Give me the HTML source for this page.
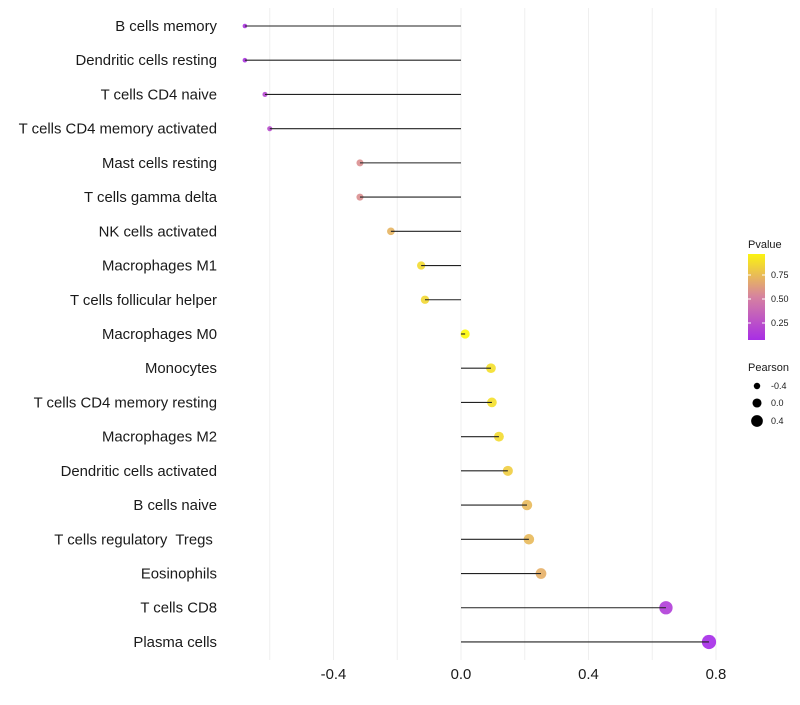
<!DOCTYPE html>
<html><head><meta charset="utf-8"><style>
body{margin:0;background:#fff;font-family:"Liberation Sans",sans-serif}
</style></head><body>
<svg id="c" width="800" height="700" xmlns="http://www.w3.org/2000/svg"></svg>
<script>
const categories=["B cells memory","Dendritic cells resting","T cells CD4 naive","T cells CD4 memory activated","Mast cells resting","T cells gamma delta","NK cells activated","Macrophages M1","T cells follicular helper","Macrophages M0","Monocytes","T cells CD4 memory resting","Macrophages M2","Dendritic cells activated","B cells naive","T cells regulatory\u00a0 Tregs\u00a0","Eosinophils","T cells CD8","Plasma cells"];
const pearson=[-0.678,-0.678,-0.615,-0.6,-0.317,-0.317,-0.22,-0.125,-0.113,0.013,0.094,0.097,0.119,0.147,0.207,0.213,0.251,0.643,0.778];
const pvalue=[0.1,0.1,0.2,0.22,0.55,0.55,0.7,0.85,0.84,0.97,0.87,0.87,0.85,0.8,0.72,0.72,0.68,0.15,0.05];
const xTicks=[-0.4,0,0.4,0.8];
const xTickLabels=["-0.4","0.0","0.4","0.8"];
const gridVals=[-0.6,-0.4,-0.2,0,0.2,0.4,0.6,0.8];
const svg=document.getElementById('c');
const NS="http://www.w3.org/2000/svg";
const x=v=>461+v*318.75;
const y=i=>26+i*34.22;
const rad=v=>2.3+(v+0.68)*3.3;
function col(p){const s=[[0,[160,32,240]],[0.5,[214,130,160]],[1,[255,255,0]]];let a=s[0],b=s[1];if(p>0.5){a=s[1];b=s[2];}const t=(p-a[0])/(b[0]-a[0]);const c=a[1].map((v,k)=>Math.round(v+(b[1][k]-v)*t));return `rgb(${c})`;}
function mk(t,at,parent){const e=document.createElementNS(NS,t);for(const k in at)e.setAttribute(k,at[k]);(parent||svg).appendChild(e);return e;}
gridVals.forEach(g=>{const l=mk('line',{x1:x(g),x2:x(g),y1:8,y2:660,stroke:'#efefef','stroke-width':1});

});
categories.forEach((c,i)=>{const t=mk('text',{x:217,y:y(i)+5,'text-anchor':'end','font-size':14.9,fill:'#1a1a1a'});t.textContent=c;

});
pearson.forEach((v,i)=>{const p=mk('circle',{cx:x(v),cy:y(i),r:rad(v),fill:col(pvalue[i]),opacity:0.9});

});
pearson.forEach((v,i)=>{const l=mk('line',{x1:x(0),x2:x(v),y1:y(i),y2:y(i),stroke:'#222','stroke-width':1.1});

});
xTicks.forEach((v,i)=>{const t=mk('text',{x:x(v),y:679,'text-anchor':'middle','font-size':14.9,fill:'#1a1a1a'});t.textContent=xTickLabels[i];

});
const defs=mk('defs',{});const lg=mk('linearGradient',{id:'g',x1:0,y1:1,x2:0,y2:0},defs);
[[0,0.07],[0.5,0.5],[1,0.95]].forEach(s=>mk('stop',{offset:s[0],'stop-color':col(s[1])},lg));
let t=mk('text',{x:748,y:248,'font-size':11,fill:'#1a1a1a'});t.textContent='Pvalue';

const bar=mk('rect',{x:748,y:254,width:17,height:86,fill:'url(#g)'});

[[0.75,275],[0.5,299],[0.25,323]].forEach(a=>{mk('line',{x1:748,x2:751,y1:a[1],y2:a[1],stroke:'#fff'});mk('line',{x1:762,x2:765,y1:a[1],y2:a[1],stroke:'#fff'});
const tt=mk('text',{x:771,y:a[1]+3,'font-size':9,fill:'#1a1a1a'});tt.textContent=a[0].toFixed(2);
});
t=mk('text',{x:748,y:371,'font-size':11,fill:'#1a1a1a'});t.textContent='Pearson';

[[-0.4,386,"-0.4"],[0,403,"0.0"],[0.4,421,"0.4"]].forEach(a=>{const c=mk('circle',{cx:757,cy:a[1],r:rad(a[0]),fill:'#000'});

const tt=mk('text',{x:771,y:a[1]+3,'font-size':9,fill:'#1a1a1a'});tt.textContent=a[2];
});
</script>
</body></html>
